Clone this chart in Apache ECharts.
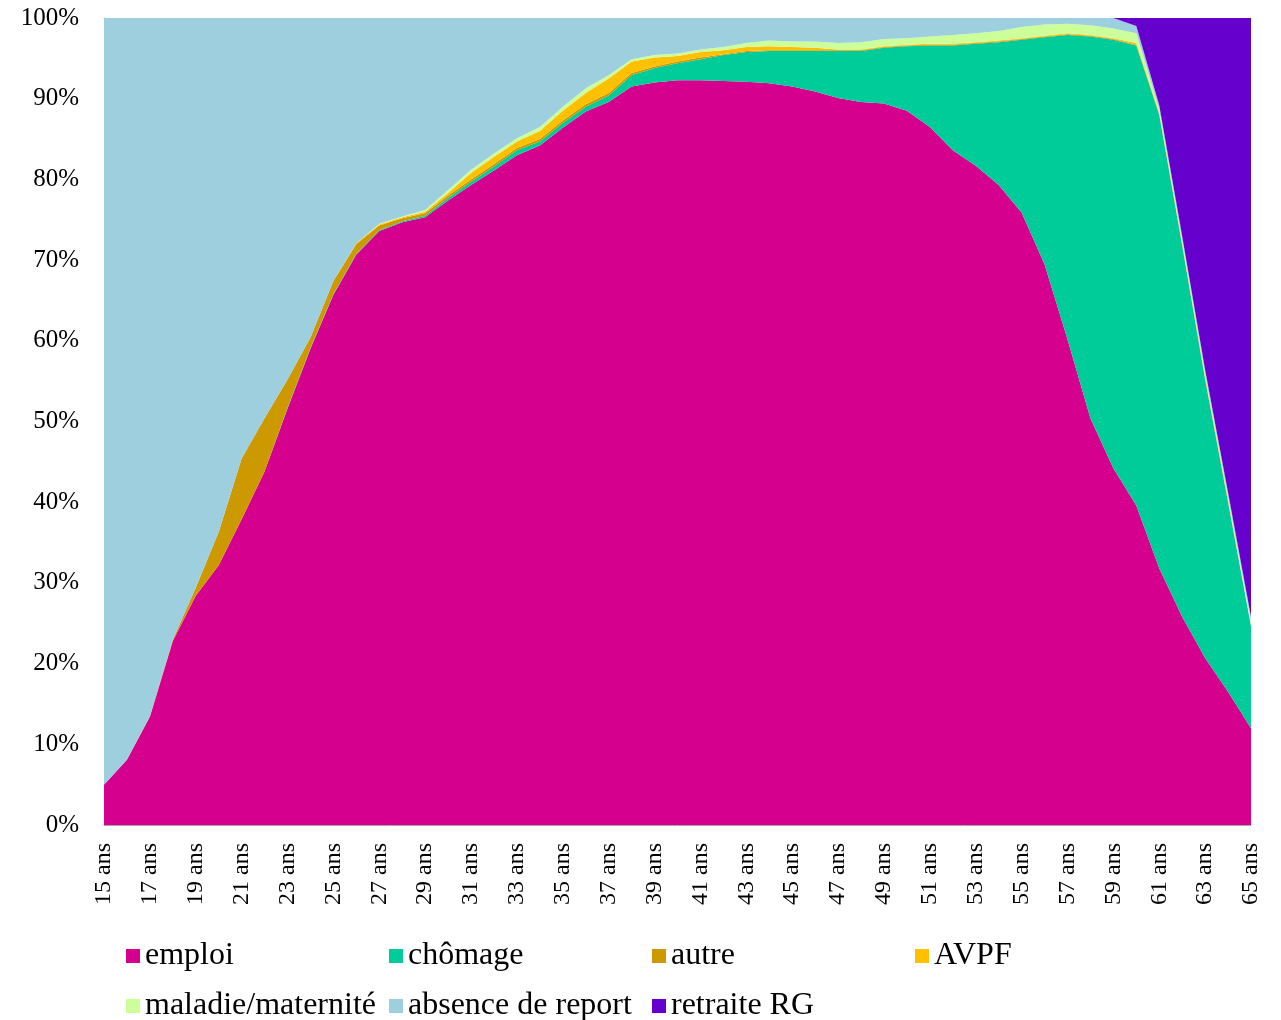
<!DOCTYPE html>
<html>
<head>
<meta charset="utf-8">
<script src="https://cdn.jsdelivr.net/npm/echarts@6.0.0/dist/echarts.min.js"></script>
<style>
  html, body { margin: 0; padding: 0; background: #fff; }
  #chart { width: 1281px; height: 1020px; }
</style>
</head>
<body>
<div id="chart"></div>
<script>
const ages = [
  '15 ans', '16 ans', '17 ans', '18 ans', '19 ans', '20 ans', '21 ans', '22 ans', '23 ans', '24 ans',
  '25 ans', '26 ans', '27 ans', '28 ans', '29 ans', '30 ans', '31 ans', '32 ans', '33 ans', '34 ans',
  '35 ans', '36 ans', '37 ans', '38 ans', '39 ans', '40 ans', '41 ans', '42 ans', '43 ans', '44 ans',
  '45 ans', '46 ans', '47 ans', '48 ans', '49 ans', '50 ans', '51 ans', '52 ans', '53 ans', '54 ans',
  '55 ans', '56 ans', '57 ans', '58 ans', '59 ans', '60 ans', '61 ans', '62 ans', '63 ans', '64 ans',
  '65 ans'
]

// parts in %, one value per age (15 -> 65)
const emploi = [
  5.0, 8.1, 13.4, 22.8, 28.4, 32.2, 37.9, 43.8, 51.6, 59.0,
  65.7, 70.7, 73.6, 74.7, 75.3, 77.4, 79.3, 81.1, 83.0, 84.2,
  86.4, 88.4, 89.6, 91.5, 92.0, 92.3, 92.3, 92.2, 92.1, 91.9,
  91.5, 90.9, 90.1, 89.6, 89.4, 88.5, 86.5, 83.6, 81.7, 79.3,
  75.9, 69.5, 60.2, 50.4, 44.2, 39.6, 31.8, 25.8, 20.7, 16.5,
  12.0
]
const chomage = [
  0, 0, 0, 0, 0, 0, 0, 0, 0.1, 0.1,
  0.1, 0.1, 0.1, 0.1, 0.2, 0.3, 0.4, 0.5, 0.6, 0.5,
  0.6, 0.6, 0.8, 1.4, 1.8, 2.1, 2.6, 3.2, 3.7, 4.0,
  4.4, 5.0, 5.8, 6.3, 6.9, 8.0, 10.1, 13.0, 15.1, 17.7,
  21.4, 28.1, 37.7, 47.3, 53.1, 57.0, 56.2, 46.0, 34.5, 23.5,
  12.6
]
const autre = [
  0, 0, 0.1, 0.2, 1.0, 4.1, 7.5, 6.6, 3.5, 1.3,
  1.6, 1.2, 0.6, 0.4, 0.3, 0.3, 0.3, 0.3, 0.3, 0.3,
  0.3, 0.3, 0.3, 0.3, 0.2, 0.2, 0.2, 0.1, 0.1, 0.1,
  0.1, 0.1, 0.1, 0.1, 0.1, 0.1, 0.1, 0.1, 0.1, 0.1,
  0.1, 0.1, 0.1, 0.1, 0.1, 0.1, 0.1, 0.1, 0.1, 0.1,
  0.1
]
const avpf = [
  0, 0, 0, 0, 0, 0, 0, 0, 0, 0,
  0, 0.1, 0.1, 0.1, 0.2, 0.3, 0.8, 0.9, 0.8, 1.0,
  1.2, 1.4, 1.8, 1.4, 1.1, 0.7, 0.7, 0.5, 0.5, 0.5,
  0.4, 0.3, 0.1, 0.1, 0.1, 0.1, 0.1, 0.1, 0.1, 0.1,
  0.1, 0.1, 0.1, 0.1, 0.1, 0.2, 0.2, 0.2, 0.2, 0.2,
  0.2
]
const maladie = [
  0, 0, 0, 0, 0, 0, 0, 0, 0, 0,
  0, 0, 0.1, 0.1, 0.2, 0.4, 0.4, 0.4, 0.4, 0.5,
  0.5, 0.6, 0.4, 0.3, 0.3, 0.3, 0.3, 0.4, 0.5, 0.7,
  0.7, 0.8, 0.8, 0.9, 0.9, 0.8, 0.9, 1.1, 1.1, 1.2,
  1.4, 1.4, 1.2, 1.2, 1.2, 1.2, 0.4, 0.4, 0.4, 0.4,
  0.4
]
const absence = [
  95.0, 91.9, 86.5, 77.0, 70.6, 63.7, 54.6, 49.6, 44.8, 39.6,
  32.6, 27.9, 25.5, 24.6, 23.8, 21.3, 18.8, 16.8, 14.9, 13.5,
  11.0, 8.7, 7.1, 5.1, 4.6, 4.4, 3.9, 3.6, 3.1, 2.8,
  2.9, 2.9, 3.1, 3.0, 2.6, 2.5, 2.3, 2.1, 1.9, 1.6,
  1.1, 0.8, 0.7, 0.9, 1.3, 0.9, 0.5, 0.5, 0.5, 0.5,
  0.5
]
const retraite = [
  0, 0, 0, 0, 0, 0, 0, 0, 0, 0,
  0, 0, 0, 0, 0, 0, 0, 0, 0, 0,
  0, 0, 0, 0, 0, 0, 0, 0, 0, 0,
  0, 0, 0, 0, 0, 0, 0, 0, 0, 0,
  0, 0, 0, 0, 0, 1.0, 10.8, 27.0, 43.6, 58.8,
  74.2
]

const font = 'Liberation Serif, Times New Roman, serif'

const layers = [
  { name: 'emploi', data: emploi, color: '#D6008F' },
  { name: 'chômage', data: chomage, color: '#00CC99' },
  { name: 'autre', data: autre, color: '#CC9900' },
  { name: 'AVPF', data: avpf, color: '#FFC000' },
  { name: 'maladie/maternité', data: maladie, color: '#CCFF99' },
  { name: 'absence de report', data: absence, color: '#9DCFDF' },
  { name: 'retraite RG', data: retraite, color: '#6600CC' }
]

const chart = echarts.init(document.getElementById('chart'))

chart.setOption({
  animation: false,
  backgroundColor: '#fff',
  grid: { left: 104, right: 30, top: 18, bottom: 195 },
  legend: {
    left: 121,
    top: 930,
    width: 1100,
    itemWidth: 14,
    itemHeight: 14,
    itemGap: 8,
    icon: 'rect',
    data: layers.map(l => l.name),
    textStyle: {
      fontFamily: font,
      fontSize: 32,
      color: '#000',
      width: 236,
      lineHeight: 42
    }
  },
  xAxis: [
    {
      type: 'category',
      boundaryGap: false,
      data: ages,
      axisLine: { lineStyle: { color: '#A6A6A6', width: 1 } },
      axisTick: { show: false },
      axisLabel: {
        interval: 1,
        rotate: 90,
        margin: 18,
        fontFamily: font,
        fontSize: 24,
        color: '#000'
      }
    },
    {
      type: 'category',
      position: 'top',
      boundaryGap: false,
      data: ages,
      axisLine: { lineStyle: { color: '#BFBFBF', width: 1 } },
      axisTick: { show: false },
      axisLabel: { show: false }
    }
  ],
  yAxis: {
    type: 'value',
    min: 0,
    max: 100,
    interval: 10,
    axisLine: { show: true, lineStyle: { color: '#A6A6A6', width: 1 } },
    axisTick: { show: false },
    splitLine: { show: false },
    axisLabel: {
      formatter: '{value}%',
      margin: 25,
      fontFamily: font,
      fontSize: 25,
      color: '#000'
    }
  },
  series: layers.map(l => ({
    name: l.name,
    type: 'line',
    stack: 'total',
    data: l.data,
    showSymbol: false,
    symbol: 'none',
    color: l.color,
    lineStyle: { width: 0 },
    areaStyle: { color: l.color, opacity: 1 }
  }))
})
</script>
</body>
</html>
